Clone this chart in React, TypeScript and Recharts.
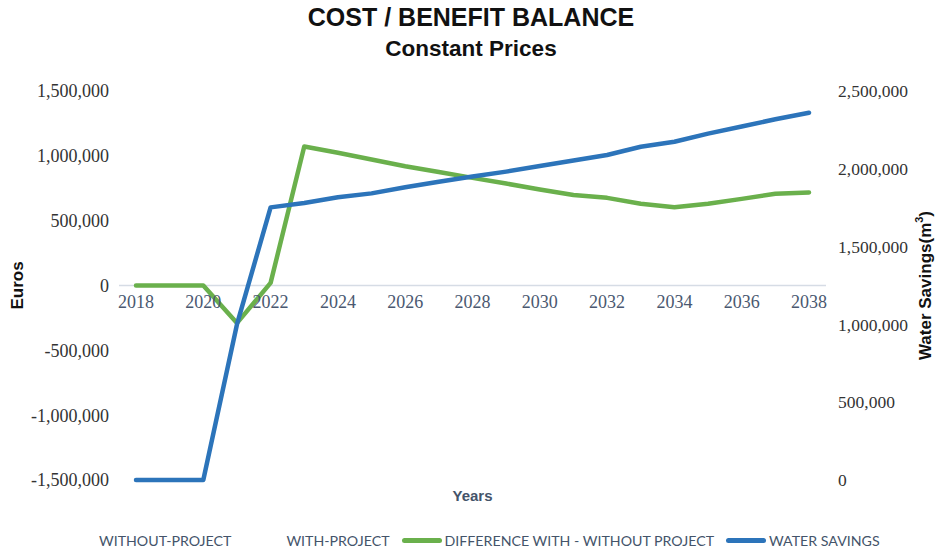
import React from 'react';
import { LineChart, Line, XAxis, YAxis, ReferenceLine } from 'recharts';

const years = [
  '2018', '2019', '2020', '2021', '2022', '2023', '2024', '2025', '2026', '2027', '2028',
  '2029', '2030', '2031', '2032', '2033', '2034', '2035', '2036', '2037', '2038',
];

// Euros, left axis
const difference = [
  0, 0, 0, -290000, 20000, 1072000, 1024000, 972000, 920000, 876000, 830000,
  786000, 740000, 698000, 676000, 630000, 604000, 630000, 668000, 707000, 718000,
];

// m3, right axis
const waterSavings = [
  0, 0, 0, 1000000, 1752000, 1780000, 1817000, 1842000, 1881000, 1917000, 1950000,
  1982000, 2018000, 2053000, 2089000, 2142000, 2174000, 2226000, 2272000, 2318000, 2360000,
];

const leftTicks = [-1500000, -1000000, -500000, 0, 500000, 1000000, 1500000];
const rightTicks = [0, 500000, 1000000, 1500000, 2000000, 2500000];

const legendItems = [
  { name: 'WITHOUT-PROJECT', color: null },
  { name: 'WITH-PROJECT', color: null },
  { name: 'DIFFERENCE WITH - WITHOUT PROJECT', color: '#6AB04C' },
  { name: 'WATER SAVINGS', color: '#2C74BA' },
];

const data = years.map((year, i) => ({
  year,
  difference: difference[i],
  water: waterSavings[i],
}));

const PLOT_TOP = 91;
const PLOT_BOTTOM = 480;
const PLOT_H = PLOT_BOTTOM - PLOT_TOP;
const HALF_BAND = 17;

const fmt = (v: number) => v.toLocaleString('en-US');

const serif = '"Liberation Serif", "DejaVu Serif", serif';
const sans = '"Liberation Sans", Arial, sans-serif';

// x labels sit under the zero line, which is the middle of the left axis
const YearTick = ({ x, y, payload }: any) => (
  <text
    x={x}
    y={y - PLOT_H / 2}
    dy={14}
    textAnchor="middle"
    fontFamily={serif}
    fontSize={18}
    fill="#4A5870"
  >
    {payload.value}
  </text>
);

const AxisTitle = ({ viewBox, value, dx }: any) => {
  const cx = viewBox.x + dx;
  const cy = viewBox.y + viewBox.height / 2;
  return (
    <text
      x={cx}
      y={cy}
      transform={`rotate(-90, ${cx}, ${cy})`}
      textAnchor="middle"
      dominantBaseline="central"
      fontFamily={sans}
      fontWeight="bold"
      fontSize={17}
      fill="#111"
    >
      {value}
    </text>
  );
};

const App = () => {
  return (
    <div style={{ position: 'absolute', left: 0, top: 0, width: 936, height: 553, background: '#fff' }}>
      <div
        style={{
          position: 'absolute',
          left: 0,
          top: 2,
          width: 942,
          textAlign: 'center',
          fontFamily: sans,
          fontWeight: 'bold',
          color: '#111',
          lineHeight: '31px',
        }}
      >
        <div style={{ fontSize: 25 }}>COST / BENEFIT BALANCE</div>
        <div style={{ fontSize: 22.5 }}>Constant Prices</div>
      </div>

      <LineChart
        width={936}
        height={553}
        data={data}
        margin={{ top: PLOT_TOP, right: 0, bottom: 553 - PLOT_BOTTOM - 30, left: 0 }}
      >
        <XAxis
          dataKey="year"
          interval={1}
          height={30}
          padding={{ left: HALF_BAND, right: HALF_BAND }}
          axisLine={false}
          tickLine={false}
          tick={<YearTick />}
          label={{ value: 'Years', position: 'center', fontFamily: sans, fontWeight: 'bold', fontSize: 15, fill: '#44546A', dy: 1 }}
        />
        <YAxis
          yAxisId="left"
          width={119}
          domain={[-1500000, 1500000]}
          ticks={leftTicks}
          tickFormatter={fmt}
          axisLine={false}
          tickLine={false}
          tickSize={0}
          tickMargin={10}
          tick={{ fontFamily: serif, fontSize: 18, fill: '#333' }}
          label={<AxisTitle value="Euros" dx={17} />}
        />
        <YAxis
          yAxisId="right"
          orientation="right"
          width={110}
          domain={[0, 2500000]}
          ticks={rightTicks}
          tickFormatter={fmt}
          axisLine={false}
          tickLine={false}
          tickSize={0}
          tickMargin={12}
          tick={{ fontFamily: serif, fontSize: 17.5, fill: '#333' }}
          label={
            <AxisTitle
              value={
                <>
                  Water Savings(m<tspan dy={-6} fontSize={11}>3</tspan>
                  <tspan dy={6}>)</tspan>
                </>
              }
              dx={99}
            />
          }
        />
        <ReferenceLine yAxisId="left" y={0} stroke="#D6DCE5" strokeWidth={1.5} />
        <Line
          yAxisId="left"
          dataKey="difference"
          stroke="#6AB04C"
          strokeWidth={4.5}
          strokeLinecap="round"
          strokeLinejoin="round"
          dot={false}
          isAnimationActive={false}
        />
        <Line
          yAxisId="right"
          dataKey="water"
          stroke="#2C74BA"
          strokeWidth={4.5}
          strokeLinecap="round"
          strokeLinejoin="round"
          dot={false}
          isAnimationActive={false}
        />
      </LineChart>

      <div
        style={{
          position: 'absolute',
          left: 56,
          top: 532,
          display: 'flex',
          gap: 12,
          fontFamily: 'Lato, "Open Sans", sans-serif',
          fontSize: 14.2,
          color: '#44546A',
          whiteSpace: 'nowrap',
        }}
      >
        {legendItems.map((item) => (
          <div key={item.name} style={{ display: 'flex', alignItems: 'center' }}>
            <div
              style={{
                width: 40,
                height: 5,
                marginRight: 3,
                borderRadius: 3,
                background: item.color || 'transparent',
              }}
            />
            <span>{item.name}</span>
          </div>
        ))}
      </div>
    </div>
  );
};

export default App;
